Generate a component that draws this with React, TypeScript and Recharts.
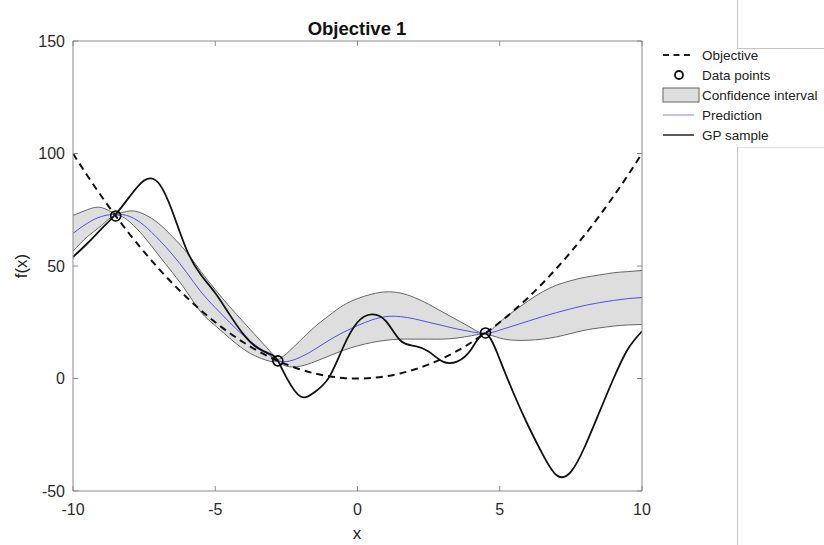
import { ComposedChart, Area, Line, Scatter, XAxis, YAxis } from 'recharts';

const xs = [
  -10, -9.5, -9, -8.5, -8, -7.5, -7, -6.5, -6, -5.5, -5, -4.5, -4, -3.5, -3, -2.8, -2.5, -2, -1.5, -1, -0.5,
  0, 0.5, 1, 1.5, 2, 2.5, 3, 3.5, 4, 4.5, 5, 5.5, 6, 6.5, 7, 7.5, 8, 8.5, 9, 9.5, 10,
];
const objective = [
  100, 90.25, 81, 72.25, 64, 56.25, 49, 42.25, 36, 30.25, 25, 20.25, 16, 12.25, 9, 7.84, 6.25, 4, 2.25, 1, 0.25,
  0, 0.25, 1, 2.25, 4, 6.25, 9, 12.25, 16, 20.25, 25, 30.25, 36, 42.25, 49, 56.25, 64, 72.25, 81, 90.25, 100,
];
const prediction = [
  64.5, 69, 72, 73, 72, 68, 62, 55, 47, 38.5, 31.5, 25, 19, 14, 9.5, 8, 7.5, 9.5, 13, 17, 20.5,
  23.5, 26, 27.5, 27.5, 26.5, 25, 23.5, 22, 20.8, 20, 21.5, 23.5, 25.5, 27.5, 29.3, 31, 32.5, 33.7, 34.7, 35.5, 36,
];
const ciUpper = [
  72.5, 75, 76, 73.5, 74.5, 73, 69, 63, 56, 47.5, 39.5, 32, 25, 18, 11, 8.5, 11, 17, 23, 28, 32.5,
  35.5, 37.5, 38.5, 38, 36, 33, 29.5, 26, 22.5, 20.3, 25, 30, 34.5, 38.5, 41.5, 43.5, 45, 46, 47, 47.5, 48,
];
const ciLower = [
  56.5, 63, 68, 72.5, 69.5, 63, 55, 47, 38.5, 29.5, 23.5, 18, 13, 9.5, 7.5, 7.5, 5.5, 5.5, 7.5, 10, 12.5,
  14.5, 16, 17, 17.5, 17.5, 17.5, 17.5, 18, 19, 19.7, 18, 17, 17, 17.5, 18.5, 20, 21.5, 22.5, 23.3, 23.8, 24,
];
const gpSample = [
  54, 60, 66.5, 73, 81, 88, 87, 74, 57, 46, 38, 28.5, 19.5, 13.5, 10.5, 8, 0.5, -8, -6, 0.5, 14,
  25, 28.5, 25.5, 17, 14.5, 12, 7.5, 7.5, 13, 20, 8.5, -7, -21, -33.5, -43, -41.5, -30, -15, 0, 13, 21,
];
const obsX = [-8.5, -2.8, 4.5];
const obsY = [72.25, 7.84, 20.25];
const xTicks = [-10, -5, 0, 5, 10];
const yTicks = [-50, 0, 50, 100, 150];

const data = xs.map((x, i) => ({
  x,
  objective: objective[i],
  prediction: prediction[i],
  band: [ciLower[i], ciUpper[i]],
  sample: gpSample[i],
}));
const observed = obsX.map((x, i) => ({ x, y: obsY[i] }));

const FONT = '"Liberation Sans", Arial, sans-serif';
const AXIS = '#8a8a8a';
const tickStyle = { fill: '#2b2b2b', fontSize: 16, fontFamily: FONT };

function Ring(props: any) {
  const { cx, cy } = props;
  if (cx == null || cy == null) return null;
  return <circle cx={cx} cy={cy} r={5} fill="none" stroke="#000" strokeWidth={1.6} />;
}

function LegendRow({ top, label, children }: { top: number; label: string; children: any }) {
  return (
    <div style={{ position: 'absolute', left: 0, top, height: 20, display: 'flex', alignItems: 'center' }}>
      <svg width={40} height={20} style={{ display: 'block' }}>{children}</svg>
      <span style={{ fontSize: 13.5, color: '#222', fontFamily: FONT, whiteSpace: 'nowrap' }}>{label}</span>
    </div>
  );
}

export default function App() {
  return (
    <div style={{ position: 'absolute', left: 0, top: 0, width: 824, height: 545, background: '#fff', overflow: 'hidden' }}>
      <ComposedChart
        width={824}
        height={545}
        data={data}
        margin={{ top: 40, right: 181, bottom: 24, left: 0 }}
      >
        <XAxis
          dataKey="x"
          type="number"
          domain={[-10, 10]}
          ticks={xTicks}
          allowDataOverflow
          height={30}
          stroke={AXIS}
          tickSize={-5}
          tickMargin={18}
          tick={tickStyle}
        />
        <XAxis
          xAxisId="top"
          dataKey="x"
          orientation="top"
          type="number"
          domain={[-10, 10]}
          ticks={xTicks}
          allowDataOverflow
          height={1}
          stroke={AXIS}
          tickSize={-5}
          tickFormatter={() => ''}
        />
        <YAxis
          type="number"
          domain={[-50, 150]}
          ticks={yTicks}
          allowDataOverflow
          width={73}
          stroke={AXIS}
          tickSize={-5}
          tickMargin={13}
          tick={tickStyle}
        />
        <YAxis
          yAxisId="right"
          orientation="right"
          type="number"
          domain={[-50, 150]}
          ticks={yTicks}
          allowDataOverflow
          width={1}
          stroke={AXIS}
          tickSize={-5}
          tickFormatter={() => ''}
        />
        <Area
          dataKey="band"
          type="natural"
          fill="#dedede"
          fillOpacity={1}
          stroke="#666"
          strokeWidth={1}
          isAnimationActive={false}
          dot={false}
          activeDot={false}
        />
        <Line dataKey="prediction" type="natural" stroke="#5050e6" strokeWidth={1} dot={false} isAnimationActive={false} />
        <Line
          dataKey="objective"
          type="natural"
          stroke="#111"
          strokeWidth={2}
          strokeDasharray="7 5"
          dot={false}
          isAnimationActive={false}
        />
        <Line dataKey="sample" type="natural" stroke="#111" strokeWidth={1.8} dot={false} isAnimationActive={false} />
        <Line
          dataKey="objective"
          xAxisId="top"
          yAxisId="right"
          stroke="none"
          dot={false}
          activeDot={false}
          legendType="none"
          isAnimationActive={false}
        />
        <Scatter data={observed} dataKey="y" shape={Ring} isAnimationActive={false} />
      </ComposedChart>

      <div style={{ position: 'absolute', left: 257, width: 200, top: 18, textAlign: 'center', fontFamily: FONT, fontWeight: 'bold', fontSize: 18.5, color: '#111' }}>
        Objective 1
      </div>
      <div style={{ position: 'absolute', left: 307, width: 100, top: 524, textAlign: 'center', fontFamily: FONT, fontSize: 17, color: '#222' }}>
        x
      </div>
      <div
        style={{
          position: 'absolute', left: -28, width: 100, top: 256, textAlign: 'center', fontFamily: FONT, fontSize: 17,
          color: '#222', transform: 'rotate(-90deg)',
        }}
      >
        f(x)
      </div>

      <div style={{ position: 'absolute', left: 662, top: 45, width: 160, height: 100 }}>
        <LegendRow top={0} label="Objective">
          <line x1={1} x2={32} y1={10} y2={10} stroke="#222" strokeWidth={2} strokeDasharray="6 4.5" />
        </LegendRow>
        <LegendRow top={20} label="Data points">
          <circle cx={17} cy={10} r={4} fill="none" stroke="#111" strokeWidth={1.8} />
        </LegendRow>
        <LegendRow top={40} label="Confidence interval">
          <rect x={1} y={3} width={36} height={14} fill="#dedede" stroke="#666" strokeWidth={1} />
        </LegendRow>
        <LegendRow top={60} label="Prediction">
          <line x1={1} x2={32} y1={10} y2={10} stroke="#9a9ad8" strokeWidth={1.2} />
        </LegendRow>
        <LegendRow top={80} label="GP sample">
          <line x1={1} x2={32} y1={10} y2={10} stroke="#333" strokeWidth={1.6} />
        </LegendRow>
      </div>

      <div style={{ position: 'absolute', left: 737, top: 0, width: 1, height: 48, background: '#c4c4c4' }} />
      <div style={{ position: 'absolute', left: 737, top: 48, width: 87, height: 1, background: '#c4c4c4' }} />
      <div style={{ position: 'absolute', left: 737, top: 147, width: 87, height: 1, background: '#e2e2e2' }} />
      <div style={{ position: 'absolute', left: 737, top: 147, width: 1, height: 398, background: '#c4c4c4' }} />
    </div>
  );
}
